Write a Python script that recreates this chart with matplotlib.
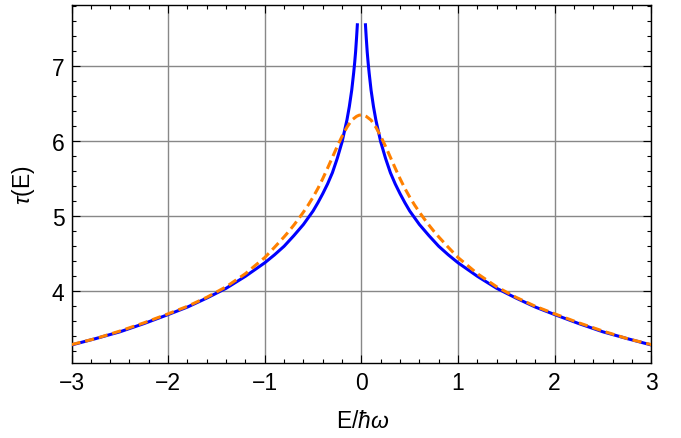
import matplotlib
matplotlib.use("Agg")
import matplotlib.pyplot as plt
from matplotlib.ticker import MultipleLocator

# values (curves are symmetric in E)
E_blue_left = [-3.0, -2.75, -2.5, -2.25, -2.0, -1.8, -1.6, -1.4, -1.2, -1.0,
               -0.9, -0.8, -0.7, -0.6, -0.5, -0.45, -0.4, -0.35, -0.3, -0.25,
               -0.2, -0.15, -0.125, -0.1, -0.08, -0.07, -0.06, -0.05, -0.041]
tau_blue_left = [3.285, 3.37, 3.46, 3.57, 3.69, 3.79, 3.91, 4.04, 4.20, 4.38,
                 4.485, 4.60, 4.74, 4.89, 5.07, 5.18, 5.30, 5.43, 5.58, 5.77,
                 5.99, 6.28, 6.46, 6.68, 6.91, 7.04, 7.19, 7.38, 7.57]
E_blue_right = [0.041, 0.05, 0.06, 0.07, 0.08, 0.1, 0.125, 0.15, 0.2, 0.25,
                0.3, 0.35, 0.4, 0.45, 0.5, 0.6, 0.7, 0.8, 0.9, 1.0,
                1.2, 1.4, 1.6, 1.8, 2.0, 2.25, 2.5, 2.75, 3.0]
tau_blue_right = [7.57, 7.38, 7.19, 7.04, 6.91, 6.68, 6.46, 6.28, 5.99, 5.77,
                  5.58, 5.43, 5.30, 5.18, 5.07, 4.89, 4.74, 4.60, 4.485, 4.38,
                  4.20, 4.04, 3.91, 3.79, 3.69, 3.57, 3.46, 3.37, 3.285]

E_orange = [-3.0, -2.75, -2.5, -2.25, -2.0, -1.8, -1.6, -1.4, -1.2, -1.0,
            -0.9, -0.8, -0.75, -0.7, -0.65, -0.6, -0.55, -0.5, -0.45, -0.4,
            -0.35, -0.3, -0.25, -0.2, -0.15, -0.1, -0.05, -0.025, 0.0,
            0.025, 0.05, 0.1, 0.15, 0.2, 0.25, 0.3, 0.35, 0.4, 0.45,
            0.5, 0.55, 0.6, 0.65, 0.7, 0.75, 0.8, 0.9, 1.0, 1.2,
            1.4, 1.6, 1.8, 2.0, 2.25, 2.5, 2.75, 3.0]
tau_orange = [3.29, 3.37, 3.47, 3.58, 3.70, 3.80, 3.92, 4.06, 4.235, 4.45,
              4.585, 4.725, 4.80, 4.88, 4.965, 5.055, 5.15, 5.255, 5.37, 5.50,
              5.64, 5.785, 5.93, 6.065, 6.185, 6.28, 6.33, 6.345, 6.35,
              6.345, 6.33, 6.28, 6.185, 6.065, 5.93, 5.785, 5.64, 5.50, 5.37,
              5.255, 5.15, 5.055, 4.965, 4.88, 4.80, 4.725, 4.585, 4.45, 4.235,
              4.06, 3.92, 3.80, 3.70, 3.58, 3.47, 3.37, 3.29]

x_ticks = [-3, -2, -1, 0, 1, 2, 3]
y_ticks = [4, 5, 6, 7]

plt.rcParams['font.family'] = ['Liberation Sans', 'DejaVu Sans']
plt.rcParams['mathtext.fontset'] = 'custom'
plt.rcParams['mathtext.rm'] = 'Liberation Sans'
plt.rcParams['mathtext.it'] = 'Liberation Sans:italic'

W, H = 681, 439
fig = plt.figure(figsize=(W / 100, H / 100), dpi=100)
ax = fig.add_axes([71.5 / W, 1 - 364 / H, 579.8 / W, 358.5 / H])

# curves
blue = '#0000ff'
ax.plot(E_blue_left, tau_blue_left, color=blue, lw=2.2, solid_capstyle='butt', zorder=3)
ax.plot(E_blue_right, tau_blue_right, color=blue, lw=2.2, solid_capstyle='butt', zorder=3)
ax.plot(E_orange, tau_orange, color='#ff8000', lw=2.2, dashes=(3.0, 1.6), zorder=4)

# axes, grid and ticks
ax.set_xlim(-3, 3)
ax.set_ylim(3.045, 7.82)
ax.set_xticks(x_ticks)
ax.set_yticks(y_ticks)
ax.xaxis.set_minor_locator(MultipleLocator(0.2))
ax.yaxis.set_minor_locator(MultipleLocator(0.2))
ax.grid(True, which='major', color='#888888', lw=1.0, zorder=1)
ax.tick_params(which='both', direction='in', top=True, right=True, width=0.8, labelsize=16.5)
ax.tick_params(which='major', length=5.5)
ax.tick_params(which='minor', length=3)
ax.tick_params(axis='x', pad=6)
ax.tick_params(axis='y', pad=5)
for sp in ax.spines.values():
    sp.set_linewidth(1.0)

ax.set_xlabel(r'E/$\hbar\omega$', fontsize=16.5)
ax.set_ylabel(r'$\tau$(E)', fontsize=16.5)
ax.xaxis.set_label_coords(0.503, -0.128)
ax.yaxis.set_label_coords(-0.059, 0.5)

fig.savefig('out.png', dpi=100)
